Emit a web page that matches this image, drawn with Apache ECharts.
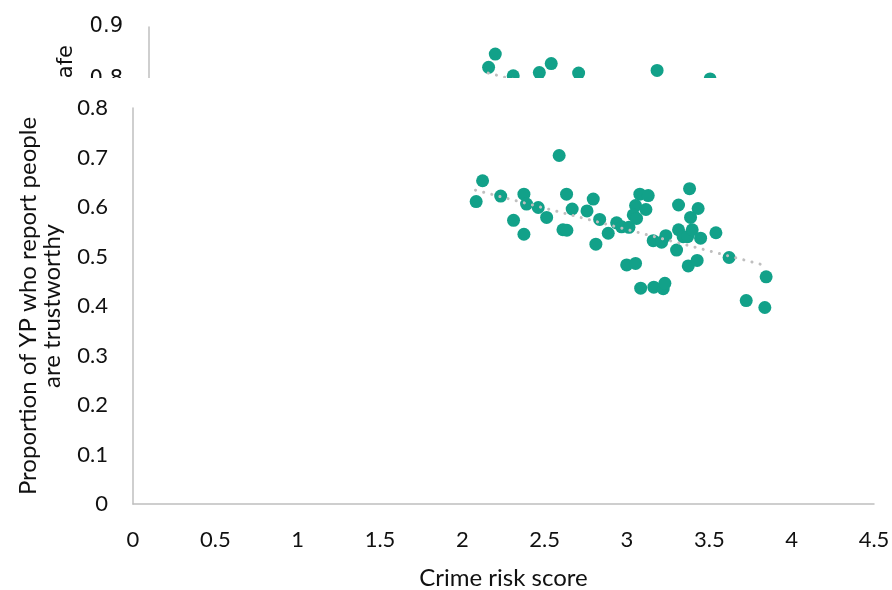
<!DOCTYPE html>
<html>
<head>
<meta charset="utf-8">
<script src="https://cdn.jsdelivr.net/npm/echarts@6/dist/echarts.min.js"></script>
<style>
  html, body { margin: 0; padding: 0; background: #fff; }
  #wrap { position: relative; width: 892px; height: 590px; overflow: hidden; }
  #bg, #fg { position: absolute; left: 0; top: 0; width: 892px; height: 590px; }
  #fg { background: #fff; clip-path: inset(78px 0 0 0); }
</style>
</head>
<body>
<div id="wrap">
  <div id="bg"></div>
  <div id="fg"></div>
</div>
<script>
// ---- Foreground chart data (trust) ----
const crimeScores = [
  2.123, 2.084, 2.233, 2.311, 2.374, 2.390, 2.374, 2.461, 2.512, 2.588,
  2.633, 2.667, 2.611, 2.635, 2.795, 2.757, 2.834, 2.811, 2.886, 2.937,
  2.967, 3.012, 2.998, 3.052, 3.078, 3.129, 3.052, 3.115, 3.038, 3.058,
  3.083, 3.163, 3.220, 3.230, 3.159, 3.210, 3.236, 3.301, 3.313, 3.380,
  3.432, 3.386, 3.313, 3.341, 3.368, 3.396, 3.447, 3.372, 3.426, 3.540,
  3.620, 3.845, 3.724, 3.837
];
const trustValues = [
  0.653, 0.611, 0.622, 0.573, 0.626, 0.606, 0.545, 0.599, 0.579, 0.704,
  0.626, 0.596, 0.554, 0.553, 0.616, 0.592, 0.575, 0.525, 0.547, 0.568,
  0.560, 0.559, 0.483, 0.486, 0.626, 0.623, 0.603, 0.595, 0.584, 0.577,
  0.436, 0.438, 0.435, 0.446, 0.532, 0.529, 0.542, 0.513, 0.604, 0.637,
  0.597, 0.579, 0.554, 0.540, 0.540, 0.554, 0.537, 0.481, 0.492, 0.548,
  0.498, 0.459, 0.411, 0.397
];
const trendX = [2.08, 3.85];
const trustTrend = [0.634, 0.481];

// ---- Background chart data (safety), mostly hidden ----
const safeScores = [2.123, 2.082, 2.233, 2.393, 2.466, 2.634, 3.115, 3.440];
const safeValues = [0.849, 0.824, 0.808, 0.814, 0.831, 0.813, 0.818, 0.802];
const safeTrend = [0.813, 0.677];

const xTicks = { min: 0, max: 4.5, interval: 0.5 };
const trustTicks = { min: 0, max: 0.8, interval: 0.1 };
const safeTicks = { min: 0, max: 0.9, interval: 0.1 };

const green = '#12a189';
const grey = '#bfbfbf';
const textColor = '#111';
const pair = (xs, ys) => xs.map((x, i) => [x, ys[i]]);
const fmt = v => (Math.round(v * 10) / 10).toString();

// Background chart
const bg = echarts.init(document.getElementById('bg'), null, { renderer: 'canvas' });
bg.setOption({
  animation: false,
  grid: { left: 149, right: 9, top: 27, bottom: 86, containLabel: false, outerBoundsMode: 'none' },
  xAxis: {
    type: 'value', min: xTicks.min, max: xTicks.max, interval: xTicks.interval,
    axisLine: { show: true, lineStyle: { color: grey } },
    axisTick: { show: false }, splitLine: { show: false },
    axisLabel: { color: textColor, fontFamily: 'DejaVu Sans', fontSize: 21 }
  },
  yAxis: {
    type: 'value', min: safeTicks.min, max: safeTicks.max, interval: safeTicks.interval,
    axisLine: { show: true, lineStyle: { color: grey, width: 1.5 } },
    axisTick: { show: false }, splitLine: { show: false },
    axisLabel: { color: textColor, fontFamily: 'DejaVu Sans', fontSize: 21, margin: 26, formatter: fmt }
  },
  graphic: [{
    type: 'text', x: 67, y: 45, rotation: Math.PI / 2,
    style: { text: 'Proportion of YP who report they feel safe', fill: textColor,
      font: '21px "DejaVu Sans"', align: 'right', verticalAlign: 'middle' }
  }],
  series: [
    { type: 'scatter', data: pair(safeScores, safeValues), symbolSize: 13,
      itemStyle: { color: green, opacity: 1 } },
    { type: 'line', data: pair(trendX, safeTrend), symbol: 'none',
      lineStyle: { color: grey, width: 3, type: [0.1, 8.3], cap: 'round' } }
  ]
});

// Foreground chart
const fg = echarts.init(document.getElementById('fg'), null, { renderer: 'canvas' });
const fgFont = 'Lato, "Open Sans", sans-serif';
fg.setOption({
  animation: false,
  grid: { left: 133, right: 18, top: 108, bottom: 86, containLabel: false, outerBoundsMode: 'none' },
  xAxis: {
    type: 'value', min: xTicks.min, max: xTicks.max, interval: xTicks.interval,
    name: 'Crime risk score', nameLocation: 'middle', nameGap: 62,
    nameTextStyle: { color: textColor, fontFamily: fgFont, fontSize: 24 },
    axisLine: { show: true, lineStyle: { color: grey, width: 1.5 } },
    axisTick: { show: false }, splitLine: { show: false },
    axisLabel: { color: textColor, fontFamily: fgFont, fontSize: 22, margin: 25, formatter: fmt }
  },
  yAxis: {
    type: 'value', min: trustTicks.min, max: trustTicks.max, interval: trustTicks.interval,
    name: 'Proportion of YP who report people\nare trustworthy',
    nameLocation: 'middle', nameGap: 69, nameRotate: 90,
    nameTextStyle: { color: textColor, fontFamily: fgFont, fontSize: 24, lineHeight: 24 },
    axisLine: { show: true, lineStyle: { color: grey, width: 1.5 } },
    axisTick: { show: false }, splitLine: { show: false },
    axisLabel: { color: textColor, fontFamily: fgFont, fontSize: 22, margin: 25, formatter: fmt }
  },
  series: [
    { type: 'scatter', data: pair(crimeScores, trustValues), symbolSize: 13,
      itemStyle: { color: green, opacity: 1 } },
    { type: 'line', data: pair(trendX, trustTrend), symbol: 'none',
      lineStyle: { color: grey, width: 3, type: [0.1, 8.3], cap: 'round' } }
  ]
});
</script>
</body>
</html>
